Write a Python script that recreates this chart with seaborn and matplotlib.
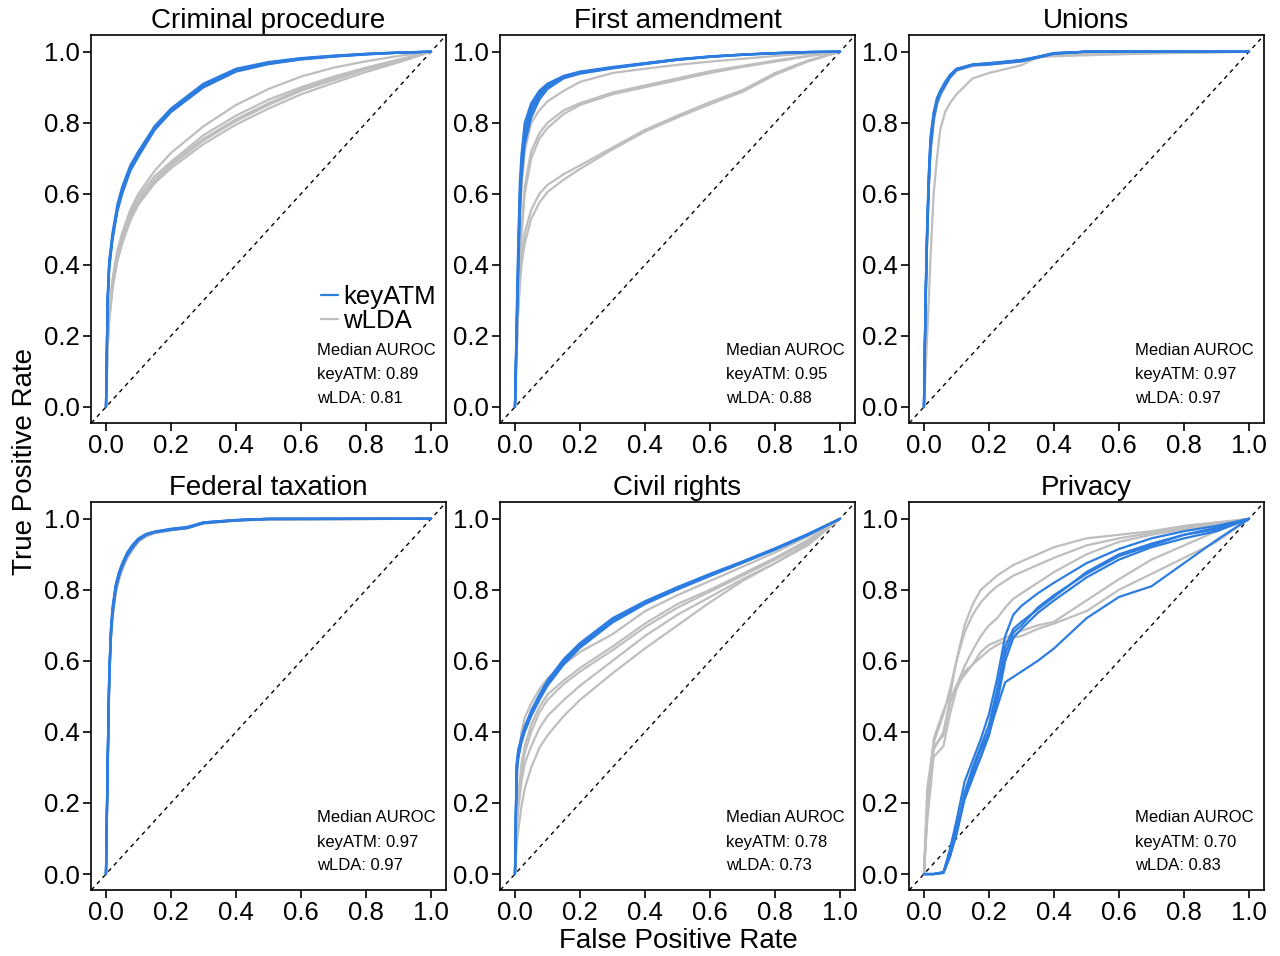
import pandas as pd
import matplotlib
matplotlib.use('Agg')
import matplotlib.pyplot as plt
from matplotlib.lines import Line2D
from matplotlib.ticker import FormatStrFormatter
import seaborn as sns

sns.set_style('ticks')
plt.rcParams['font.family'] = ['Liberation Sans', 'DejaVu Sans']
plt.rcParams['text.color'] = 'black'

BLUE = '#2d7de1'
GRAY = '#bebebe'

topics = ['Criminal procedure', 'First amendment', 'Unions',
          'Federal taxation', 'Civil rights', 'Privacy']
auroc_keyatm = ['0.89', '0.95', '0.97', '0.97', '0.78', '0.70']
auroc_wlda = ['0.81', '0.88', '0.97', '0.97', '0.73', '0.83']

# Criminal procedure
crim_fpr = [0, 0.005, 0.01, 0.02, 0.035, 0.05, 0.075, 0.1, 0.15, 0.2, 0.3, 0.4, 0.5, 0.6, 0.7, 0.8, 0.9, 1.0]
crim_keyatm = [
    [0, 0.31, 0.41, 0.49, 0.57, 0.62, 0.68, 0.72, 0.79, 0.84, 0.91, 0.952, 0.971, 0.982, 0.989, 0.994, 0.998, 1],
    [0, 0.30, 0.40, 0.48, 0.56, 0.61, 0.67, 0.71, 0.785, 0.835, 0.905, 0.948, 0.968, 0.98, 0.987, 0.993, 0.997, 1],
    [0, 0.29, 0.39, 0.47, 0.55, 0.60, 0.665, 0.705, 0.78, 0.83, 0.90, 0.944, 0.965, 0.978, 0.986, 0.992, 0.997, 1],
    [0, 0.28, 0.39, 0.475, 0.555, 0.605, 0.67, 0.715, 0.79, 0.838, 0.902, 0.946, 0.966, 0.979, 0.987, 0.993, 0.997, 1],
    [0, 0.30, 0.41, 0.48, 0.56, 0.61, 0.675, 0.712, 0.782, 0.832, 0.90, 0.945, 0.967, 0.981, 0.988, 0.994, 0.998, 1],
]
crim_wlda = [
    [0, 0.20, 0.27, 0.36, 0.44, 0.49, 0.555, 0.60, 0.665, 0.715, 0.79, 0.85, 0.895, 0.93, 0.955, 0.973, 0.988, 1],
    [0, 0.19, 0.26, 0.35, 0.43, 0.48, 0.545, 0.59, 0.65, 0.69, 0.765, 0.82, 0.865, 0.90, 0.93, 0.955, 0.978, 1],
    [0, 0.18, 0.25, 0.34, 0.42, 0.47, 0.535, 0.58, 0.64, 0.685, 0.755, 0.81, 0.855, 0.895, 0.925, 0.952, 0.975, 1],
    [0, 0.17, 0.25, 0.34, 0.42, 0.47, 0.53, 0.575, 0.635, 0.68, 0.75, 0.805, 0.85, 0.89, 0.92, 0.95, 0.974, 1],
    [0, 0.16, 0.24, 0.33, 0.41, 0.46, 0.525, 0.57, 0.63, 0.672, 0.74, 0.795, 0.84, 0.88, 0.912, 0.943, 0.97, 1],
]

# First amendment
first_fpr = [0, 0.005, 0.01, 0.015, 0.02, 0.03, 0.05, 0.075, 0.1, 0.15, 0.2, 0.3, 0.4, 0.5, 0.6, 0.7, 0.8, 0.9, 1.0]
first_keyatm = [
    [0, 0.25, 0.46, 0.63, 0.71, 0.80, 0.855, 0.89, 0.91, 0.932, 0.944, 0.957, 0.968, 0.979, 0.987, 0.992, 0.996, 0.999, 1],
    [0, 0.22, 0.42, 0.60, 0.69, 0.78, 0.845, 0.885, 0.906, 0.93, 0.942, 0.955, 0.967, 0.978, 0.986, 0.992, 0.996, 0.999, 1],
    [0, 0.20, 0.40, 0.57, 0.67, 0.76, 0.83, 0.875, 0.90, 0.928, 0.94, 0.954, 0.966, 0.977, 0.986, 0.991, 0.996, 0.999, 1],
    [0, 0.18, 0.37, 0.54, 0.64, 0.74, 0.815, 0.865, 0.895, 0.925, 0.938, 0.953, 0.965, 0.977, 0.985, 0.991, 0.995, 0.999, 1],
    [0, 0.21, 0.41, 0.59, 0.68, 0.77, 0.835, 0.88, 0.903, 0.929, 0.941, 0.955, 0.967, 0.978, 0.986, 0.992, 0.996, 0.999, 1],
]
first_wlda = [
    [0, 0.20, 0.38, 0.52, 0.62, 0.72, 0.80, 0.835, 0.86, 0.89, 0.915, 0.94, 0.952, 0.963, 0.972, 0.98, 0.988, 0.995, 1],
    [0, 0.15, 0.30, 0.42, 0.50, 0.62, 0.72, 0.77, 0.80, 0.835, 0.855, 0.885, 0.905, 0.925, 0.945, 0.96, 0.975, 0.988, 1],
    [0, 0.14, 0.28, 0.40, 0.48, 0.60, 0.70, 0.755, 0.785, 0.825, 0.85, 0.88, 0.90, 0.92, 0.94, 0.957, 0.972, 0.987, 1],
    [0, 0.15, 0.28, 0.36, 0.42, 0.49, 0.555, 0.60, 0.625, 0.655, 0.68, 0.73, 0.78, 0.82, 0.858, 0.892, 0.94, 0.975, 1],
    [0, 0.14, 0.27, 0.34, 0.40, 0.46, 0.53, 0.575, 0.605, 0.64, 0.67, 0.725, 0.775, 0.815, 0.852, 0.887, 0.935, 0.972, 1],
]

# Unions
unions_fpr = [0, 0.005, 0.01, 0.015, 0.02, 0.03, 0.04, 0.05, 0.065, 0.08, 0.1, 0.15, 0.2, 0.3, 0.35, 0.4, 0.5, 0.7, 1.0]
unions_keyatm = [
    [0, 0.32, 0.52, 0.66, 0.76, 0.83, 0.87, 0.89, 0.915, 0.935, 0.952, 0.964, 0.967, 0.977, 0.986, 0.996, 1, 1, 1],
    [0, 0.30, 0.50, 0.64, 0.74, 0.82, 0.86, 0.885, 0.91, 0.93, 0.95, 0.963, 0.966, 0.975, 0.985, 0.995, 1, 1, 1],
    [0, 0.28, 0.48, 0.62, 0.72, 0.81, 0.855, 0.88, 0.905, 0.928, 0.948, 0.962, 0.965, 0.974, 0.984, 0.995, 1, 1, 1],
    [0, 0.31, 0.51, 0.65, 0.75, 0.825, 0.862, 0.887, 0.912, 0.932, 0.951, 0.964, 0.968, 0.976, 0.985, 0.996, 1, 1, 1],
    [0, 0.29, 0.49, 0.63, 0.73, 0.815, 0.857, 0.882, 0.907, 0.929, 0.949, 0.962, 0.964, 0.973, 0.983, 0.994, 1, 1, 1],
]
unions_wlda = [
    [0, 0.29, 0.49, 0.63, 0.73, 0.815, 0.857, 0.882, 0.907, 0.929, 0.949, 0.962, 0.965, 0.974, 0.984, 0.99, 0.993, 0.996, 1],
    [0, 0.30, 0.50, 0.64, 0.74, 0.82, 0.86, 0.885, 0.91, 0.93, 0.95, 0.963, 0.966, 0.975, 0.985, 0.992, 0.995, 0.997, 1],
    [0, 0.28, 0.48, 0.62, 0.72, 0.81, 0.855, 0.88, 0.905, 0.928, 0.948, 0.962, 0.965, 0.974, 0.984, 0.995, 1, 1, 1],
    [0, 0.27, 0.47, 0.61, 0.71, 0.80, 0.85, 0.875, 0.90, 0.925, 0.946, 0.96, 0.963, 0.972, 0.982, 0.994, 1, 1, 1],
    [0, 0.10, 0.20, 0.30, 0.42, 0.60, 0.70, 0.78, 0.83, 0.855, 0.88, 0.925, 0.94, 0.962, 0.985, 0.987, 0.99, 0.995, 1],
]

# Federal taxation
tax_fpr = [0, 0.005, 0.01, 0.015, 0.02, 0.03, 0.04, 0.05, 0.065, 0.08, 0.1, 0.125, 0.15, 0.2, 0.25, 0.3, 0.4, 0.5, 1.0]
tax_keyatm = [
    [0, 0.32, 0.57, 0.69, 0.75, 0.815, 0.85, 0.875, 0.905, 0.925, 0.945, 0.958, 0.964, 0.972, 0.977, 0.99, 0.997, 1, 1],
    [0, 0.30, 0.56, 0.68, 0.74, 0.81, 0.845, 0.87, 0.90, 0.92, 0.942, 0.956, 0.963, 0.97, 0.975, 0.989, 0.996, 1, 1],
    [0, 0.29, 0.55, 0.67, 0.735, 0.805, 0.84, 0.868, 0.898, 0.918, 0.94, 0.955, 0.962, 0.969, 0.974, 0.988, 0.996, 0.999, 1],
    [0, 0.31, 0.56, 0.68, 0.745, 0.81, 0.847, 0.872, 0.902, 0.922, 0.944, 0.957, 0.963, 0.971, 0.976, 0.99, 0.996, 1, 1],
    [0, 0.28, 0.54, 0.665, 0.73, 0.80, 0.838, 0.865, 0.895, 0.916, 0.94, 0.955, 0.962, 0.969, 0.974, 0.988, 0.995, 0.999, 1],
]
tax_wlda = [
    [0, 0.28, 0.54, 0.66, 0.725, 0.795, 0.83, 0.86, 0.89, 0.912, 0.937, 0.952, 0.96, 0.968, 0.974, 0.987, 0.995, 0.999, 1],
    [0, 0.29, 0.55, 0.67, 0.735, 0.80, 0.835, 0.862, 0.893, 0.915, 0.938, 0.953, 0.961, 0.969, 0.975, 0.988, 0.996, 0.999, 1],
    [0, 0.27, 0.53, 0.655, 0.72, 0.79, 0.828, 0.856, 0.888, 0.91, 0.935, 0.951, 0.96, 0.968, 0.974, 0.987, 0.995, 0.998, 1],
    [0, 0.30, 0.55, 0.67, 0.735, 0.805, 0.84, 0.866, 0.896, 0.917, 0.94, 0.954, 0.962, 0.97, 0.975, 0.989, 0.996, 1, 1],
    [0, 0.28, 0.535, 0.66, 0.725, 0.795, 0.832, 0.858, 0.89, 0.912, 0.936, 0.952, 0.96, 0.968, 0.973, 0.987, 0.995, 0.999, 1],
]

# Civil rights
civil_fpr = [0, 0.005, 0.01, 0.02, 0.03, 0.05, 0.075, 0.1, 0.15, 0.2, 0.3, 0.4, 0.5, 0.6, 0.7, 0.8, 0.9, 1.0]
civil_keyatm = [
    [0, 0.30, 0.34, 0.38, 0.41, 0.455, 0.50, 0.54, 0.60, 0.645, 0.715, 0.765, 0.805, 0.842, 0.878, 0.915, 0.955, 1],
    [0, 0.29, 0.33, 0.375, 0.405, 0.45, 0.495, 0.535, 0.595, 0.64, 0.71, 0.762, 0.803, 0.84, 0.877, 0.914, 0.955, 1],
    [0, 0.31, 0.35, 0.385, 0.415, 0.46, 0.505, 0.545, 0.605, 0.65, 0.72, 0.768, 0.808, 0.845, 0.88, 0.917, 0.957, 1],
    [0, 0.28, 0.325, 0.37, 0.40, 0.445, 0.49, 0.53, 0.59, 0.637, 0.708, 0.76, 0.801, 0.839, 0.876, 0.913, 0.954, 1],
    [0, 0.30, 0.34, 0.38, 0.41, 0.452, 0.498, 0.538, 0.598, 0.643, 0.713, 0.764, 0.804, 0.841, 0.877, 0.915, 0.955, 1],
]
civil_wlda = [
    [0, 0.25, 0.32, 0.40, 0.44, 0.48, 0.52, 0.55, 0.59, 0.625, 0.675, 0.74, 0.785, 0.825, 0.865, 0.905, 0.95, 1],
    [0, 0.15, 0.22, 0.31, 0.36, 0.42, 0.47, 0.505, 0.545, 0.58, 0.64, 0.705, 0.76, 0.80, 0.845, 0.89, 0.94, 1],
    [0, 0.14, 0.21, 0.29, 0.34, 0.40, 0.455, 0.49, 0.535, 0.57, 0.63, 0.695, 0.75, 0.795, 0.84, 0.885, 0.935, 1],
    [0, 0.12, 0.18, 0.26, 0.31, 0.36, 0.41, 0.445, 0.49, 0.53, 0.60, 0.67, 0.73, 0.78, 0.83, 0.875, 0.93, 1],
    [0, 0.08, 0.12, 0.19, 0.24, 0.30, 0.355, 0.39, 0.445, 0.49, 0.565, 0.635, 0.70, 0.765, 0.825, 0.875, 0.925, 1],
]

# Privacy
privacy_fpr = [0, 0.01, 0.03, 0.06, 0.08, 0.1, 0.125, 0.15, 0.175, 0.2, 0.225, 0.25, 0.275, 0.3, 0.35, 0.4, 0.5, 0.6, 0.7, 0.8, 0.9, 1.0]
privacy_keyatm = [
    [0, 0, 0, 0.005, 0.07, 0.15, 0.26, 0.32, 0.38, 0.45, 0.55, 0.67, 0.73, 0.755, 0.79, 0.82, 0.875, 0.915, 0.945, 0.965, 0.98, 1],
    [0, 0, 0, 0.004, 0.05, 0.12, 0.23, 0.30, 0.36, 0.42, 0.52, 0.64, 0.69, 0.71, 0.745, 0.78, 0.85, 0.90, 0.93, 0.955, 0.975, 1],
    [0, 0, 0, 0.006, 0.06, 0.13, 0.22, 0.29, 0.35, 0.40, 0.50, 0.62, 0.68, 0.70, 0.75, 0.785, 0.845, 0.895, 0.925, 0.955, 0.97, 1],
    [0, 0, 0, 0.003, 0.05, 0.11, 0.21, 0.27, 0.33, 0.39, 0.48, 0.60, 0.665, 0.69, 0.735, 0.77, 0.835, 0.885, 0.92, 0.945, 0.965, 1],
    [0, 0, 0, 0.004, 0.05, 0.12, 0.22, 0.28, 0.33, 0.40, 0.47, 0.54, 0.555, 0.57, 0.60, 0.635, 0.72, 0.78, 0.81, 0.875, 0.94, 1],
]
privacy_wlda = [
    [0, 0.24, 0.37, 0.45, 0.52, 0.60, 0.70, 0.76, 0.80, 0.82, 0.84, 0.855, 0.87, 0.88, 0.90, 0.92, 0.945, 0.955, 0.965, 0.98, 0.99, 1],
    [0, 0.20, 0.38, 0.46, 0.50, 0.60, 0.68, 0.73, 0.765, 0.79, 0.81, 0.825, 0.84, 0.85, 0.87, 0.89, 0.925, 0.945, 0.96, 0.975, 0.985, 1],
    [0, 0.18, 0.36, 0.39, 0.48, 0.53, 0.585, 0.63, 0.67, 0.70, 0.72, 0.75, 0.775, 0.79, 0.82, 0.85, 0.90, 0.935, 0.955, 0.97, 0.985, 1],
    [0, 0.17, 0.35, 0.40, 0.49, 0.53, 0.56, 0.59, 0.625, 0.645, 0.655, 0.665, 0.675, 0.685, 0.70, 0.71, 0.77, 0.83, 0.885, 0.925, 0.965, 1],
    [0, 0.15, 0.33, 0.36, 0.45, 0.52, 0.57, 0.59, 0.61, 0.63, 0.645, 0.655, 0.665, 0.67, 0.69, 0.705, 0.74, 0.80, 0.845, 0.89, 0.935, 1],
]

panels = [
    (crim_fpr, crim_keyatm, crim_wlda),
    (first_fpr, first_keyatm, first_wlda),
    (unions_fpr, unions_keyatm, unions_wlda),
    (tax_fpr, tax_keyatm, tax_wlda),
    (civil_fpr, civil_keyatm, civil_wlda),
    (privacy_fpr, privacy_keyatm, privacy_wlda),
]

# long table: one row per point of every run
rows = []
for topic, (fpr, key, wl) in zip(topics, panels):
    for model, runs in [('keyATM', key), ('wLDA', wl)]:
        for r, tpr in enumerate(runs):
            for f, t in zip(fpr, tpr):
                rows.append((topic, model, r, f, t))
df = pd.DataFrame(rows, columns=['topic', 'model', 'run', 'fpr', 'tpr'])

fig, axes = plt.subplots(2, 3, figsize=(12.8, 9.56), dpi=100)
fig.subplots_adjust(left=0.0711, right=0.9875, bottom=0.069, top=0.9634,
                    wspace=0.152, hspace=0.204)

for ax, topic, ka, wa in zip(axes.flat, topics, auroc_keyatm, auroc_wlda):
    d = df[df.topic == topic]
    ax.axline((0, 0), (1, 1), color='black', ls=(0, (3, 3)), lw=1.0, zorder=1)
    sns.lineplot(data=d[d.model == 'wLDA'], x='fpr', y='tpr', units='run',
                 estimator=None, sort=False, color=GRAY, lw=1.6, ax=ax, zorder=2)
    sns.lineplot(data=d[d.model == 'keyATM'], x='fpr', y='tpr', units='run',
                 estimator=None, sort=False, color=BLUE, lw=1.6, ax=ax, zorder=3)
    ax.set_xlim(-0.046, 1.046)
    ax.set_ylim(-0.045, 1.047)
    ax.set_xticks([0, 0.2, 0.4, 0.6, 0.8, 1.0])
    ax.set_yticks([0, 0.2, 0.4, 0.6, 0.8, 1.0])
    ax.xaxis.set_major_formatter(FormatStrFormatter('%.1f'))
    ax.yaxis.set_major_formatter(FormatStrFormatter('%.1f'))
    ax.tick_params(direction='out', length=6, width=1.2, labelsize=18.5,
                   pad=2, colors='black')
    for sp in ax.spines.values():
        sp.set_visible(True)
        sp.set_linewidth(1.2)
        sp.set_color('black')
    ax.set_xlabel('')
    ax.set_ylabel('')
    ax.set_title(topic, fontsize=20, pad=5, color='black')
    ax.text(0.649, 0.158, 'Median AUROC', fontsize=12, va='center')
    ax.text(0.649, 0.090, 'keyATM: ' + ka, fontsize=12, va='center')
    ax.text(0.649, 0.023, 'wLDA: ' + wa, fontsize=12, va='center')

handles = [Line2D([], [], color=BLUE, lw=1.6), Line2D([], [], color=GRAY, lw=1.6)]
leg = axes[0, 0].legend(handles, ['keyATM', 'wLDA'], loc='upper left',
                        bbox_to_anchor=(0.648, 0.355), frameon=False, fontsize=18.5,
                        handlelength=0.65, handletextpad=0.2, labelspacing=0.0,
                        borderpad=0, borderaxespad=0)
for t in leg.get_texts():
    t.set_color('black')

fig.text(0.0195, 0.517, 'True Positive Rate', rotation=90, fontsize=20,
         ha='center', va='center')
fig.text(0.53, 0.016, 'False Positive Rate', fontsize=20, ha='center', va='center')

fig.savefig('out.png', dpi=100)
